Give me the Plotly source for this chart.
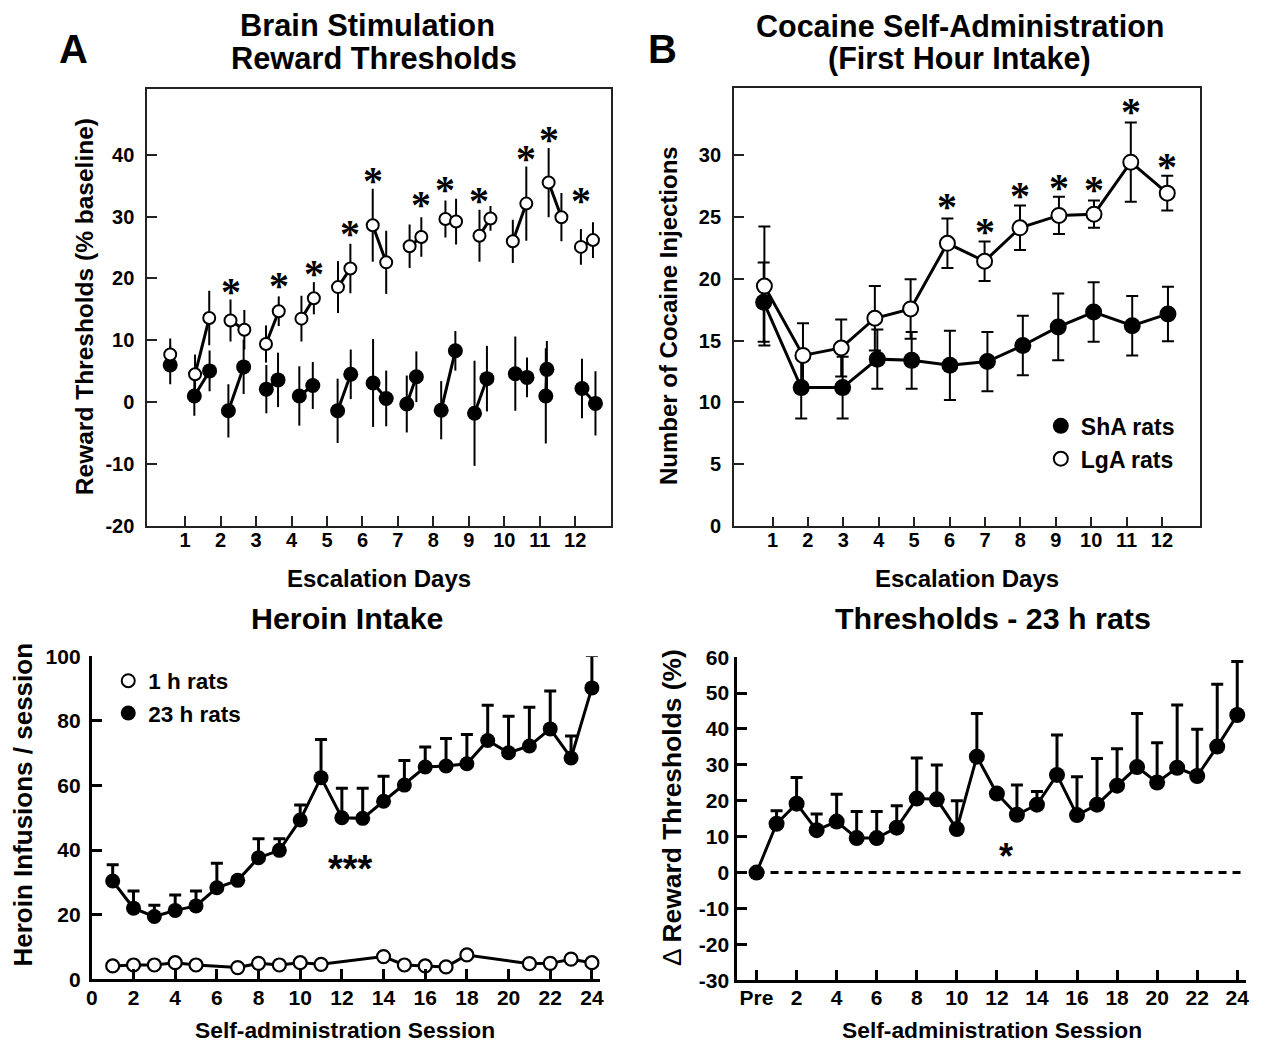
import plotly.graph_objects as go

W, H = 1265, 1044
FONT = "Liberation Sans, Arial, Helvetica, sans-serif"
SERIF = "Liberation Serif, Times New Roman, serif"

# ---------------- Panel A: Brain stimulation reward thresholds ----------------
A_open_x = [0.58, 1.28, 1.68, 2.28, 2.67, 3.28, 3.64, 4.28, 4.63, 5.31, 5.66, 6.29, 6.67,
            7.33, 7.66, 8.34, 8.64, 9.30, 9.61, 10.24, 10.62, 11.25, 11.61, 12.16, 12.50]
A_open_y = [7.7, 4.5, 13.6, 13.2, 11.7, 9.4, 14.7, 13.5, 16.8, 18.6, 21.6, 28.6, 22.6,
            25.2, 26.7, 29.6, 29.2, 26.9, 29.7, 26.0, 32.1, 35.5, 29.9, 25.1, 26.2]
A_open_err = [2.6, 3.2, 4.4, 3.4, 3.2, 3.0, 2.4, 3.7, 2.6, 4.2, 4.0, 5.9, 5.1,
              3.5, 3.2, 3.0, 3.7, 4.2, 2.0, 3.5, 6.0, 5.6, 3.9, 2.9, 2.9]
A_open_day = [0, 1, 1, 2, 2, 3, 3, 4, 4, 5, 5, 6, 6, 7, 7, 8, 8, 9, 9, 10, 10, 11, 11, 12, 12]

A_fill_x = [0.58, 1.26, 1.69, 2.22, 2.65, 3.29, 3.62, 4.22, 4.60, 5.30, 5.67, 6.30, 6.67,
            7.25, 7.52, 8.22, 8.62, 9.16, 9.51, 10.31, 10.64, 11.20, 11.17, 12.19, 12.57]
A_fill_y = [6.0, 1.0, 5.05, -1.4, 5.7, 2.1, 3.6, 1.0, 2.7, -1.4, 4.5, 3.1, 0.6,
            -0.3, 4.1, -1.3, 8.3, -1.8, 3.8, 4.6, 4.0, 5.3, 1.0, 2.2, -0.2]
A_fill_err = [3.1, 3.2, 3.3, 4.3, 4.4, 3.9, 4.4, 4.8, 3.8, 5.2, 4.0, 7.1, 4.5,
              4.6, 4.1, 4.7, 3.2, 8.5, 5.3, 6.0, 3.2, 4.6, 7.7, 4.8, 5.2]
A_fill_day = [0, 1, 1, 2, 2, 3, 3, 4, 4, 5, 5, 6, 6, 7, 7, 8, 8, 9, 9, 10, 10, 11, 11, 12, 12]

A_star_x = [2.28, 3.64, 4.63, 5.66, 6.29, 7.66, 8.34, 9.30, 10.62, 11.25, 12.16]
A_star_y = [18.9, 19.9, 21.7, 28.2, 36.8, 33.0, 35.4, 33.6, 40.4, 43.4, 33.5]
A_xticks = list(range(1, 13))
A_yticks = [-20, -10, 0, 10, 20, 30, 40]
A_yticklabels = ["-20", "-10", "0", "10", "20", "30", "40"]

# ---------------- Panel B: Cocaine self-administration ----------------
B_open_x = [0.77, 1.86, 2.94, 3.89, 4.90, 5.94, 6.99, 7.99, 9.09, 10.08, 11.12, 12.15]
B_open_y = [19.4, 13.8, 14.4, 16.8, 17.55, 22.85, 21.4, 24.1, 25.1, 25.2, 29.4, 26.9]
B_open_err = [4.8, 2.6, 2.3, 2.6, 2.4, 2.0, 1.6, 1.8, 1.5, 1.1, 3.2, 1.4]
B_fill_x = [0.75, 1.81, 2.98, 3.96, 4.93, 6.01, 7.07, 8.07, 9.07, 10.07, 11.16, 12.17]
B_fill_y = [18.1, 11.2, 11.2, 13.5, 13.4, 13.0, 13.3, 14.6, 16.1, 17.3, 16.2, 17.15]
B_fill_err = [3.2, 2.5, 2.5, 2.4, 2.3, 2.8, 2.4, 2.4, 2.7, 2.4, 2.4, 2.2]
B_star_x = [5.94, 6.99, 7.99, 9.09, 10.08, 11.12, 12.15]
B_star_y = [26.3, 24.3, 27.2, 27.8, 27.7, 34.0, 29.5]
B_xticks = list(range(1, 13))
B_yticks = [0, 5, 10, 15, 20, 25, 30]

# ---------------- Panel C: Heroin intake ----------------
C_23_x = list(range(1, 25))
C_23_y = [30.4, 22.0, 19.4, 21.3, 22.7, 28.3, 30.6, 37.6, 39.9, 49.3, 62.4, 50.0,
          49.8, 55.1, 60.1, 65.7, 66.0, 66.7, 73.9, 70.1, 72.2, 77.5, 68.5, 90.2]
C_23_err = [5.0, 5.3, 3.5, 4.8, 4.6, 7.6, 1.0, 5.9, 3.6, 4.6, 11.8, 9.1,
            9.3, 7.7, 7.6, 6.2, 8.5, 9.1, 10.9, 11.3, 12.0, 11.7, 6.8, 10.0]
C_1_x = [1, 2, 3, 4, 5, 7, 8, 9, 10, 11, 14, 15, 16, 17, 18, 21, 22, 23, 24]
C_1_y = [4.1, 4.4, 4.4, 5.1, 4.4, 3.6, 4.9, 4.4, 5.1, 4.6, 7.0, 4.4, 4.1, 3.8, 7.5,
         4.8, 4.9, 6.2, 5.1]
C_star = (12.4, 36.1)
C_xticks = list(range(0, 25, 2))
C_yticks = [0, 20, 40, 60, 80, 100]

# ---------------- Panel D: Thresholds - 23 h rats ----------------
D_x = list(range(0, 25))
D_y = [0, 13.6, 19.2, 11.8, 14.2, 9.6, 9.6, 12.5, 20.6, 20.4, 12.1, 32.3, 22.0,
       16.1, 18.9, 27.2, 16.0, 18.9, 24.2, 29.4, 25.1, 29.2, 26.9, 35.1, 43.9]
D_err = [0, 3.6, 7.3, 4.5, 7.6, 7.4, 7.4, 6.1, 11.3, 9.6, 7.9, 12.0, 0.5,
         8.3, 3.7, 11.1, 10.7, 12.9, 10.3, 14.9, 11.1, 17.5, 13.0, 17.4, 14.9]
D_star = (12.44, 6.0)
D_xticks = list(range(0, 25, 2))
D_xticklabels = ["Pre"] + [str(v) for v in range(2, 25, 2)]
D_yticks = [-30, -20, -10, 0, 10, 20, 30, 40, 50, 60]
D_yticklabels = ["-30", "-20", "-10", "0", "10", "20", "30", "40", "50", "60"]


def gapped(xs, ys, groups):
    X, Y, prev = [], [], None
    for x, y, g in zip(xs, ys, groups):
        if prev is not None and g != prev:
            X.append(None)
            Y.append(None)
        X.append(x)
        Y.append(y)
        prev = g
    return X, Y


# screen-position helpers (target pixel -> figure pixel)
def PX(x):
    return (x - 14.0) / 0.9914


def PY(y):
    return (y - 18.1) / 0.979


fig = go.Figure()
BLK = "black"

# ---- Panel A traces
for xs, ys, grp in [(A_fill_x, A_fill_y, A_fill_day), (A_open_x, A_open_y, A_open_day)]:
    lx, ly = gapped(xs, ys, grp)
    fig.add_trace(go.Scatter(x=lx, y=ly, mode="lines", line=dict(color=BLK, width=3),
                             xaxis="x", yaxis="y", showlegend=False, hoverinfo="skip"))
fig.add_trace(go.Scatter(x=A_fill_x, y=A_fill_y, mode="markers",
                         marker=dict(size=15, color=BLK, line=dict(width=0)),
                         error_y=dict(type="data", array=A_fill_err, color=BLK, thickness=2, width=0),
                         xaxis="x", yaxis="y", showlegend=False))
fig.add_trace(go.Scatter(x=A_open_x, y=A_open_y, mode="markers",
                         marker=dict(size=12, color="white", line=dict(width=2, color=BLK)),
                         error_y=dict(type="data", array=A_open_err, color=BLK, thickness=2, width=0),
                         xaxis="x", yaxis="y", showlegend=False))

# ---- Panel B traces
fig.add_trace(go.Scatter(x=B_fill_x, y=B_fill_y, mode="lines+markers",
                         line=dict(color=BLK, width=3),
                         marker=dict(size=17, color=BLK),
                         error_y=dict(type="data", array=B_fill_err, color=BLK, thickness=2, width=6),
                         xaxis="x2", yaxis="y2", showlegend=False))
fig.add_trace(go.Scatter(x=B_open_x, y=B_open_y, mode="lines+markers",
                         line=dict(color=BLK, width=3),
                         marker=dict(size=15, color="white", line=dict(width=2, color=BLK)),
                         error_y=dict(type="data", array=B_open_err, color=BLK, thickness=2, width=6),
                         xaxis="x2", yaxis="y2", showlegend=False))
fig.add_trace(go.Scatter(x=[None], y=[None], mode="markers", name="ShA rats",
                         marker=dict(size=16, color=BLK), xaxis="x2", yaxis="y2",
                         legend="legend"))
fig.add_trace(go.Scatter(x=[None], y=[None], mode="markers", name="LgA rats",
                         marker=dict(size=14, color="white", line=dict(width=2, color=BLK)),
                         xaxis="x2", yaxis="y2", legend="legend"))

# ---- Panel C traces
fig.add_trace(go.Scatter(x=C_1_x, y=C_1_y, mode="lines+markers",
                         line=dict(color=BLK, width=3),
                         marker=dict(size=13, color="white", line=dict(width=2.2, color=BLK)),
                         xaxis="x3", yaxis="y3", showlegend=False, cliponaxis=False))
fig.add_trace(go.Scatter(x=C_23_x, y=C_23_y, mode="lines+markers",
                         line=dict(color=BLK, width=3),
                         marker=dict(size=15, color=BLK),
                         error_y=dict(type="data", array=C_23_err, arrayminus=[0] * len(C_23_err),
                                      symmetric=False, color=BLK, thickness=3, width=6),
                         xaxis="x3", yaxis="y3", showlegend=False, cliponaxis=False))
fig.add_trace(go.Scatter(x=[None], y=[None], mode="markers", name="1 h rats",
                         marker=dict(size=13, color="white", line=dict(width=2, color=BLK)),
                         xaxis="x3", yaxis="y3", legend="legend2"))
fig.add_trace(go.Scatter(x=[None], y=[None], mode="markers", name="23 h rats",
                         marker=dict(size=15, color=BLK), xaxis="x3", yaxis="y3",
                         legend="legend2"))

# ---- Panel D traces
fig.add_trace(go.Scatter(x=D_x, y=D_y, mode="lines+markers",
                         line=dict(color=BLK, width=3),
                         marker=dict(size=16, color=BLK),
                         error_y=dict(type="data", array=D_err, arrayminus=[0] * len(D_err),
                                      symmetric=False, color=BLK, thickness=3, width=6),
                         xaxis="x4", yaxis="y4", showlegend=False, cliponaxis=False))


def xd(a, b):
    return [PX(a) / W, PX(b) / W]


def yd(top, bottom):
    return [1 - PY(bottom) / H, 1 - PY(top) / H]


def box_axis(**kw):
    d = dict(showline=True, linewidth=1.5, linecolor="#222", mirror=True, ticks="inside",
             ticklen=10, tickwidth=1.5, tickcolor="#222", showgrid=False, zeroline=False,
             tickfont=dict(family=FONT, size=20, color=BLK, weight="bold"))
    d.update(kw)
    return d


def open_axis(**kw):
    d = dict(showline=True, linewidth=3, linecolor=BLK, mirror=False, ticks="inside",
             ticklen=10, tickwidth=3, tickcolor=BLK, showgrid=False, zeroline=False,
             tickfont=dict(family=FONT, size=21, color=BLK, weight="bold"))
    d.update(kw)
    return d


layout = dict(
    width=W, height=H, margin=dict(l=0, r=0, t=0, b=0),
    paper_bgcolor="white", plot_bgcolor="white",
    xaxis=box_axis(domain=xd(147, 611), range=[-0.072, 13.02], tickvals=A_xticks,
                   anchor="y", ticklabelstandoff=-5),
    yaxis=box_axis(domain=yd(86.7, 524.5), range=[-20, 50.7], tickvals=A_yticks,
                   ticktext=A_yticklabels, anchor="x", ticklabelstandoff=7),
    xaxis2=box_axis(domain=xd(733.3, 1199), range=[-0.094, 13.07], tickvals=B_xticks,
                    anchor="y2", ticklabelstandoff=-5),
    yaxis2=box_axis(domain=yd(86, 525), range=[0, 35.4], tickvals=B_yticks,
                    anchor="x2", ticklabelstandoff=7),
    xaxis3=open_axis(domain=xd(91.8, 599.4), range=[0, 24.38], tickvals=C_xticks,
                     anchor="y3", ticklabelstandoff=-2),
    yaxis3=open_axis(domain=yd(655, 978.3), range=[0, 100], tickvals=C_yticks,
                     anchor="x3", ticklabelstandoff=4),
    xaxis4=open_axis(domain=xd(736.8, 1245.4), range=[-0.96, 24.45], tickvals=D_xticks,
                     ticktext=D_xticklabels, anchor="y4", ticklabelstandoff=-3),
    yaxis4=open_axis(domain=yd(656, 979.3), range=[-30, 60], tickvals=D_yticks,
                     ticktext=D_yticklabels, anchor="x4", ticklabelstandoff=1),
    legend=dict(x=1035 / W, y=1 - 393 / H, xanchor="left", yanchor="top",
                font=dict(family=FONT, size=23, color=BLK, weight="bold"),
                bgcolor="rgba(0,0,0,0)", itemsizing="trace", traceorder="normal",
                tracegroupgap=0),
    legend2=dict(x=95 / W, y=1 - 654 / H, xanchor="left", yanchor="top",
                 font=dict(family=FONT, size=22.5, color=BLK, weight="bold"),
                 bgcolor="rgba(0,0,0,0)", itemsizing="trace", traceorder="normal",
                 tracegroupgap=0),
    shapes=[dict(type="line", xref="x4", yref="y4", x0=0, x1=24.45, y0=0, y1=0,
                 line=dict(color=BLK, width=3, dash="8px,6px"), layer="below")],
)


def ptxt(text, px, py, size, angle=0, serif=False):
    return dict(text=text, x=PX(px) / W, y=1 - PY(py) / H, xref="paper", yref="paper",
                xanchor="center", yanchor="middle", showarrow=False, textangle=angle,
                font=dict(family=SERIF if serif else FONT, size=size, color=BLK))


ann = [
    ptxt("<b>A</b>", 73, 47, 40),
    ptxt("<b>B</b>", 662, 47, 40),
    ptxt("<b>Brain Stimulation</b>", 367.5, 24, 30.8),
    ptxt("<b>Reward Thresholds</b>", 374, 57, 30.8),
    ptxt("<b>Cocaine Self-Administration</b>", 959, 24, 30.5),
    ptxt("<b>(First Hour Intake)</b>", 959, 57, 30.5),
    ptxt("<b>Escalation Days</b>", 379, 577, 24),
    ptxt("<b>Escalation Days</b>", 966, 577, 24),
    ptxt("<b>Reward Thresholds (% baseline)</b>", 84, 305.5, 24.5, -90),
    ptxt("<b>Number of Cocaine Injections</b>", 668, 314, 24, -90),
    ptxt("<b>Heroin Intake</b>", 347, 617, 30.4),
    ptxt("<b>Thresholds - 23 h rats</b>", 992, 617, 30.4),
    ptxt("<b>Self-administration Session</b>", 345, 1029, 22.8),
    ptxt("<b>Self-administration Session</b>", 991, 1029, 22.8),
    ptxt("<b>Heroin Infusions / session</b>", 23, 803.5, 26, -90),
    ptxt("Δ <b>Reward Thresholds (%)</b>", 671, 806.5, 26.4, -90),
]
for sx, sy in zip(A_star_x, A_star_y):
    ann.append(dict(text="<b>*</b>", x=sx, y=sy, xref="x", yref="y", showarrow=False,
                    yshift=-6, font=dict(family=SERIF, size=40, color=BLK)))
for sx, sy in zip(B_star_x, B_star_y):
    ann.append(dict(text="<b>*</b>", x=sx, y=sy, xref="x2", yref="y2", showarrow=False,
                    yshift=-6, font=dict(family=SERIF, size=40, color=BLK)))
ann.append(dict(text="<b>***</b>", x=C_star[0], y=C_star[1], xref="x3", yref="y3",
                showarrow=False, yshift=-6, font=dict(family=FONT, size=38, color=BLK)))
ann.append(dict(text="<b>*</b>", x=D_star[0], y=D_star[1], xref="x4", yref="y4",
                showarrow=False, yshift=-5, font=dict(family=FONT, size=36, color=BLK)))
layout["annotations"] = ann

fig.update_layout(**layout)
fig.write_html("out.html")
